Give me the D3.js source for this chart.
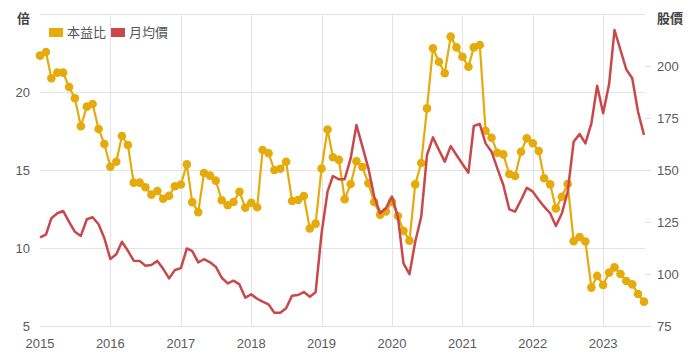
<!DOCTYPE html>
<html>
<head>
<meta charset="utf-8">
<script src="https://cdn.jsdelivr.net/npm/d3@7"></script>
<style>
  html, body { margin: 0; padding: 0; background: #fff; }
  svg { display: block; font-family: "Liberation Sans", Arial, "Noto Sans CJK TC", sans-serif; }
</style>
</head>
<body>
<svg id="chart" width="696" height="359"></svg>
<script>
// ---- data ----
const startMonth = "2015-01";
const peValues = [
  22.33, 22.56, 20.88, 21.24, 21.24, 20.32, 19.6, 17.8, 19.06, 19.23, 17.63, 16.67,
  15.21, 15.53, 17.18, 16.6, 14.19, 14.19, 13.89, 13.42, 13.65, 13.16, 13.35, 13.96,
  14.07, 15.36, 12.94, 12.3, 14.81, 14.64, 14.32, 13.06, 12.74, 12.95, 13.61, 12.59,
  12.9, 12.61, 16.28, 16.07, 15.0, 15.08, 15.53, 13.01, 13.08, 13.33, 11.25, 11.56,
  15.1, 17.6, 15.82, 15.65, 13.13, 14.1, 15.56, 15.19, 14.15, 12.95, 12.14, 12.34,
  12.97, 12.05, 11.11, 10.47, 14.08, 15.45, 18.95, 22.8, 21.94, 21.2, 23.55, 22.86,
  22.26, 21.62, 22.86, 23.01, 17.52, 17.07, 16.11, 16.0, 14.74, 14.62, 16.17, 17.03,
  16.71, 16.22, 14.47, 14.08, 12.54, 13.29, 14.1, 10.44, 10.7, 10.42, 7.46, 8.21,
  7.63, 8.42, 8.76, 8.33, 7.88, 7.67, 7.05, 6.56
];
const priceValues = [
  117.6, 118.9, 126.8, 129.2, 130.3, 125.1, 120.3, 118.3, 126.3, 127.3, 123.9, 117.2,
  107.2, 109.5, 115.5, 111.2, 106.4, 106.3, 104.0, 104.3, 106.3, 102.5, 97.9, 101.9,
  102.8, 112.3, 111.0, 105.6, 107.1, 105.6, 103.5, 98.2, 95.5, 96.8, 95.0, 88.6,
  90.2, 88.1, 86.7, 85.4, 81.4, 81.4, 83.5, 89.6, 89.9, 91.3, 89.1, 91.2,
  119.5, 139.6, 147.1, 145.5, 145.6, 155.6, 171.6, 161.2, 150.8, 137.2, 129.2, 131.6,
  137.2, 127.5, 105.1, 99.9, 115.5, 127.5, 157.2, 165.7, 159.6, 154.0, 161.5, 157.2,
  152.9, 148.7, 171.2, 172.1, 162.8, 158.8, 150.8, 142.8, 131.1, 130.0, 135.6, 141.5,
  139.6, 135.6, 132.4, 129.2, 123.1, 129.2, 139.5, 163.6, 167.3, 162.8, 172.4, 190.5,
  177.3, 191.3, 217.3, 207.7, 198.4, 194.1, 178.0, 166.8
];
const leftTicks = [5, 10, 15, 20, 25];
const leftTickLabels = ["5", "10", "15", "20", ""];
const rightTicks = [75, 100, 125, 150, 175, 200];
const xTickYears = [2015, 2016, 2017, 2018, 2019, 2020, 2021, 2022, 2023];
const seriesNames = ["本益比", "月均價"];
const leftUnit = "倍";
const rightUnit = "股價";

// ---- setup ----
const colors = ["#e5ab0c", "#c8484b"];
const W = 696, H = 359;
const m = { left: 40, right: 52, top: 14, bottom: 33 };
const svg = d3.select("#chart");

const parseM = d3.timeParse("%Y-%m");
const start = parseM(startMonth);
const months = peValues.map((_, i) => d3.timeMonth.offset(start, i));
const endDate = d3.timeMonth.offset(start, peValues.length - 1);

const x = d3.scaleTime().domain([start, endDate]).range([m.left, W - m.right]);
const yL = d3.scaleLinear().domain([5, 25]).range([H - m.bottom, m.top]);
const yR = d3.scaleLinear().domain([75, 225]).range([H - m.bottom, m.top]);

const grid = svg.append("g");
grid.selectAll("line.h").data(leftTicks).join("line")
  .attr("x1", m.left).attr("x2", W - m.right + 1)
  .attr("y1", d => Math.round(yL(d)) + 0.5).attr("y2", d => Math.round(yL(d)) + 0.5)
  .attr("stroke", "#e3e3e3").attr("stroke-width", 1);
const yearDates = xTickYears.map(y => new Date(y, 0, 1));
grid.selectAll("line.v").data(yearDates.slice(1)).join("line")
  .attr("x1", d => Math.round(x(d)) + 0.5).attr("x2", d => Math.round(x(d)) + 0.5)
  .attr("y1", m.top).attr("y2", H - m.bottom)
  .attr("stroke", "#e3e3e3").attr("stroke-width", 1);

const fontSize = 13;
const labelColor = "#5a5a5a";
svg.append("g").selectAll("text").data(leftTicks).join("text")
  .attr("x", 30).attr("y", d => yL(d)).attr("dy", "0.36em")
  .attr("text-anchor", "end").attr("font-size", fontSize).attr("fill", labelColor)
  .text((d, i) => leftTickLabels[i]);

const rg = svg.append("g");
rg.selectAll("line").data(rightTicks).join("line")
  .attr("x1", W - m.right + 1).attr("x2", W - m.right + 7)
  .attr("y1", d => Math.round(yR(d)) + 0.5).attr("y2", d => Math.round(yR(d)) + 0.5)
  .attr("stroke", "#e0e0e0");
rg.selectAll("text").data(rightTicks).join("text")
  .attr("x", 657).attr("y", d => yR(d)).attr("dy", "0.36em")
  .attr("text-anchor", "start").attr("font-size", fontSize).attr("fill", labelColor)
  .text(d => d);

svg.append("g").selectAll("text").data(yearDates).join("text")
  .attr("x", d => x(d)).attr("y", 348)
  .attr("text-anchor", "middle").attr("font-size", fontSize).attr("fill", labelColor)
  .text((d, i) => xTickYears[i]);

svg.append("text").attr("x", 30).attr("y", 23).attr("text-anchor", "end")
  .attr("font-size", 13).attr("font-weight", "bold").attr("fill", "#444")
  .style("font-family", "'Noto Sans CJK TC', sans-serif").text(leftUnit);
svg.append("text").attr("x", 657).attr("y", 23).attr("text-anchor", "start")
  .attr("font-size", 13).attr("font-weight", "bold").attr("fill", "#444")
  .style("font-family", "'Noto Sans CJK TC', sans-serif").text(rightUnit);

const peLine = d3.line().x((d, i) => x(months[i])).y(d => yL(d));
svg.append("path").datum(peValues).attr("d", peLine)
  .attr("fill", "none").attr("stroke", colors[0]).attr("stroke-width", 2.2)
  .attr("stroke-linejoin", "round");
svg.append("g").selectAll("circle").data(peValues).join("circle")
  .attr("cx", (d, i) => x(months[i])).attr("cy", d => yL(d)).attr("r", 4.3)
  .attr("fill", colors[0]);

const prLine = d3.line().x((d, i) => x(months[i])).y(d => yR(d));
svg.append("path").datum(priceValues).attr("d", prLine)
  .attr("fill", "none").attr("stroke", colors[1]).attr("stroke-width", 2.5)
  .attr("stroke-linejoin", "round");

const leg = svg.append("g");
const legItems = [{ x: 49, tx: 67 }, { x: 111, tx: 129 }];
legItems.forEach((it, i) => {
  leg.append("rect").attr("x", it.x).attr("y", 28).attr("width", 14).attr("height", 9)
    .attr("fill", colors[i]);
  leg.append("text").attr("x", it.tx).attr("y", 37).attr("font-size", 13)
    .attr("fill", "#555").style("font-family", "'Noto Sans CJK TC', sans-serif")
    .text(seriesNames[i]);
});
</script>
</body>
</html>
